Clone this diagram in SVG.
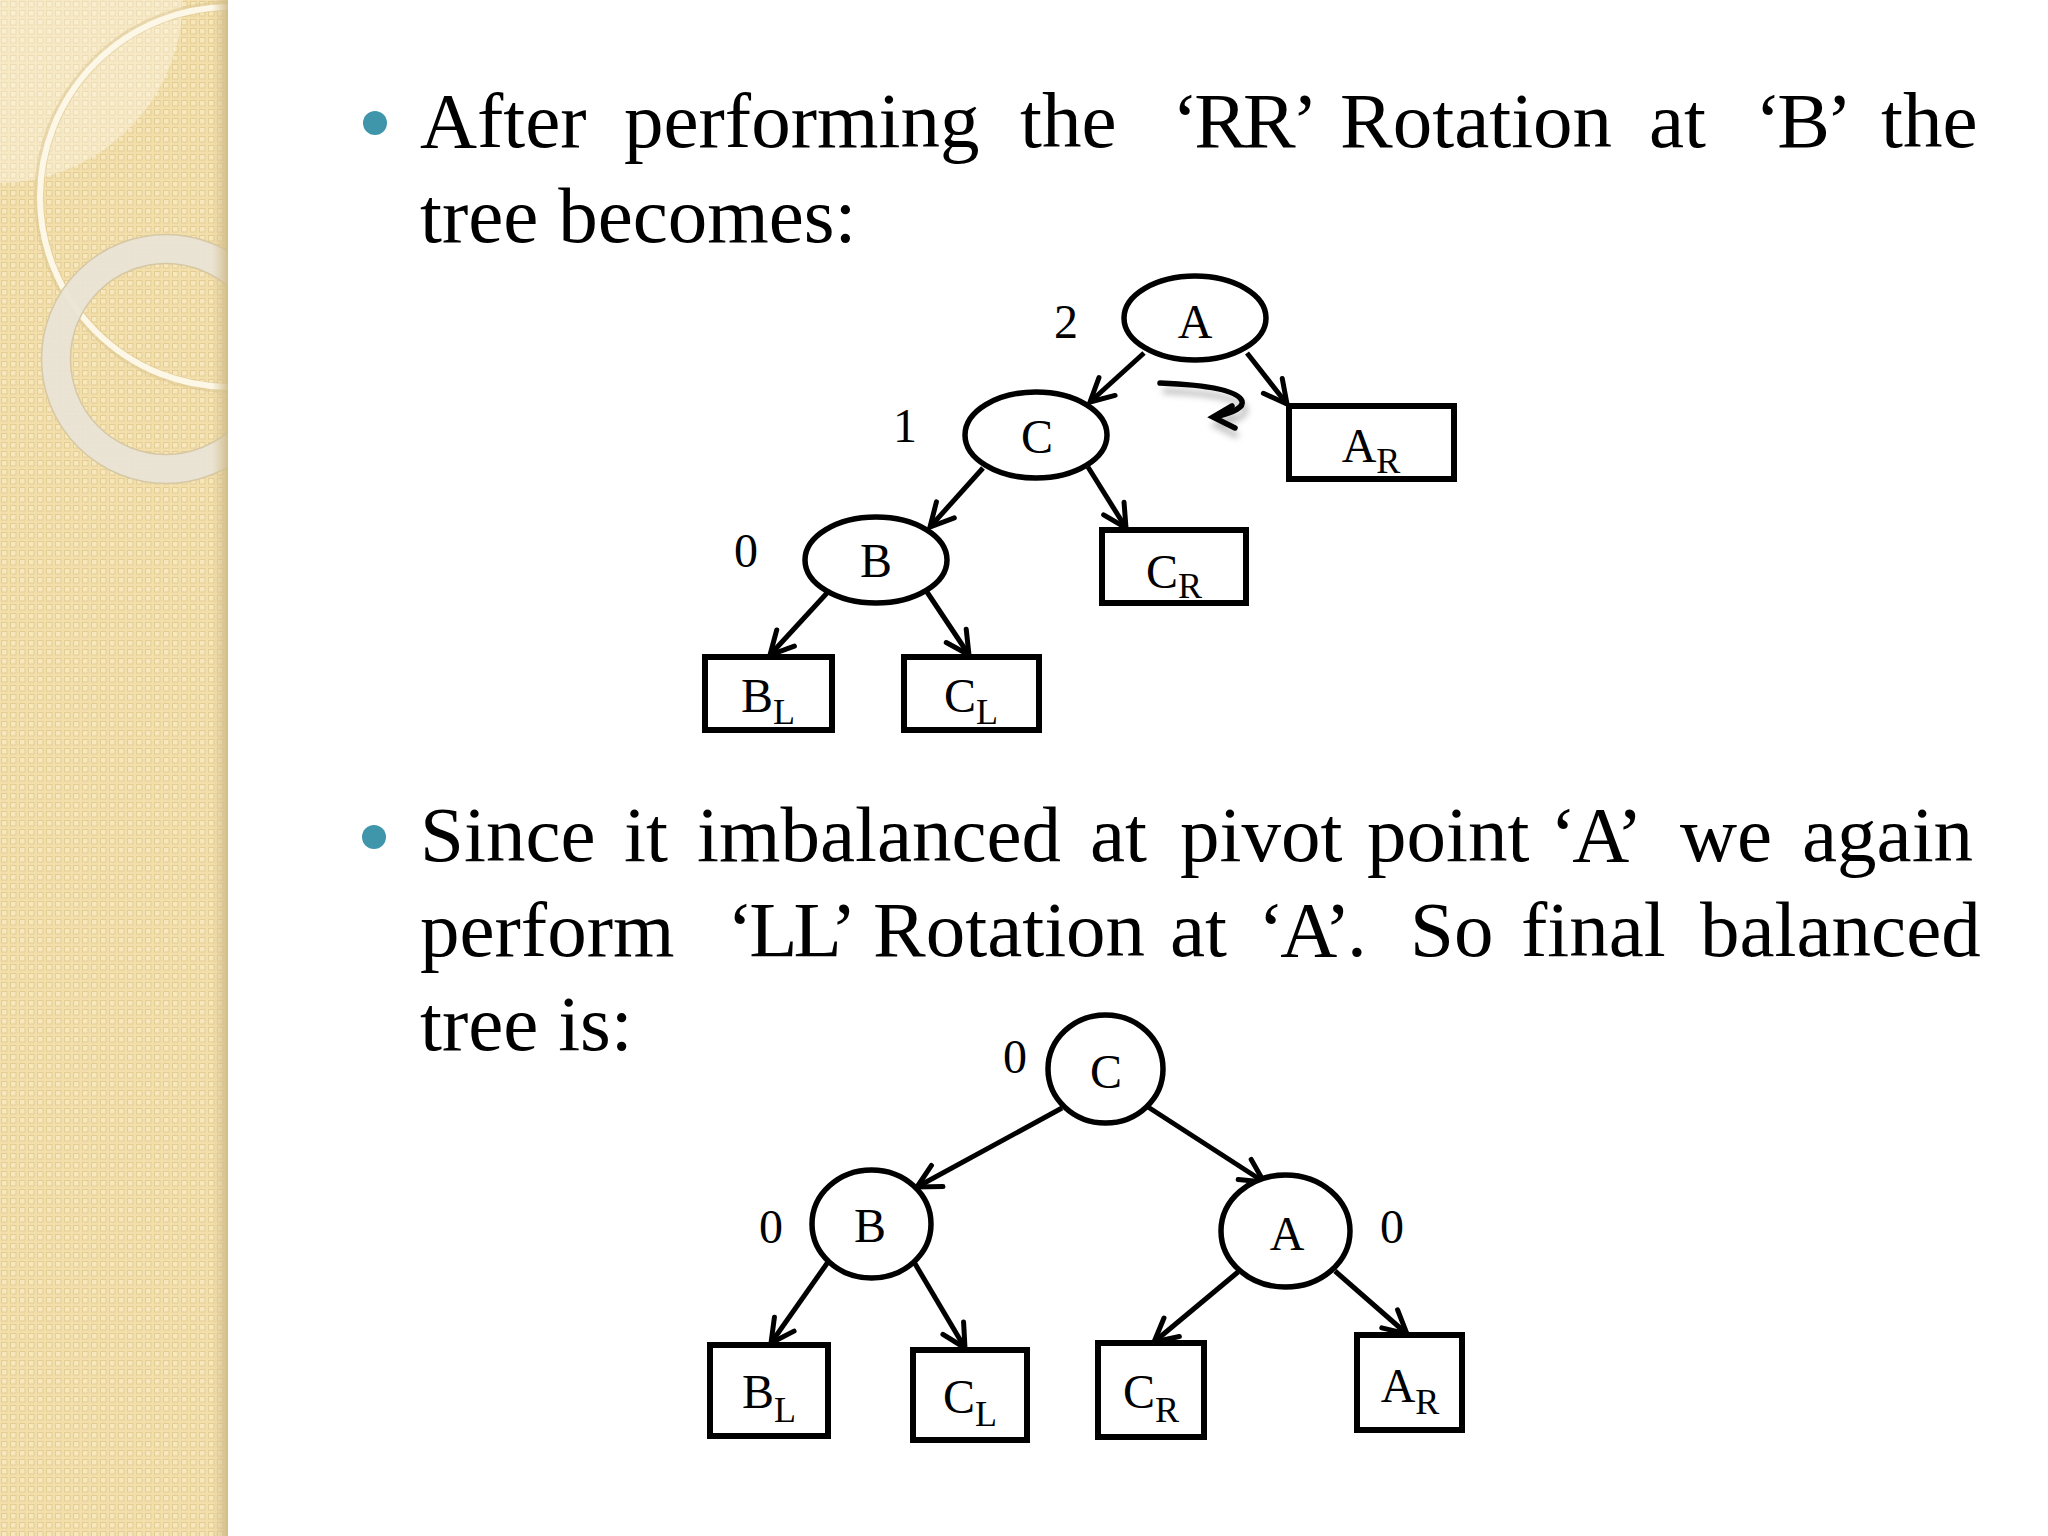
<svg xmlns="http://www.w3.org/2000/svg" width="2048" height="1536" viewBox="0 0 2048 1536">
<defs>
<style>
.body{font-family:"Liberation Serif","Times New Roman",serif;font-size:79px;fill:#000}
.q{letter-spacing:-4px}
.lbl{font-family:"Liberation Serif","Times New Roman",serif;font-size:48px;fill:#000;text-anchor:middle}
.sub{font-size:36px}
.node{fill:#fff;stroke:#000;stroke-width:5.5}
.box{fill:#fff;stroke:#000;stroke-width:6}
.edge{stroke:#000;stroke-width:5;fill:none;marker-end:url(#arr)}
</style>
<marker id="arr" markerUnits="userSpaceOnUse" viewBox="-30 -20 40 40" markerWidth="40" markerHeight="40" refX="0" refY="0" orient="auto">
<path d="M-23,-12 L0,0 L-23,12" fill="none" stroke="#000" stroke-width="5" stroke-linejoin="miter" stroke-linecap="round"/>
</marker>
<pattern id="weave" width="9" height="9" patternUnits="userSpaceOnUse">
<rect width="9" height="9" fill="#f3dfac"/>
<rect x="1.5" y="1.5" width="5.5" height="5.5" fill="#f7e7bd" stroke="#e4cd93" stroke-width="1"/>
</pattern>
<linearGradient id="edgeShade" x1="0" y1="0" x2="1" y2="0">
<stop offset="0" stop-color="#d8c597" stop-opacity="0"/>
<stop offset="1" stop-color="#cdb985" stop-opacity="0.9"/>
</linearGradient>
<clipPath id="stripClip"><rect x="0" y="0" width="228" height="1536"/></clipPath>
<filter id="blur" x="-20%" y="-50%" width="140%" height="200%"><feGaussianBlur stdDeviation="3"/></filter>
</defs>
<rect width="2048" height="1536" fill="#fff"/>
<g id="strip">
<rect x="0" y="0" width="228" height="1536" fill="url(#weave)"/>
<g clip-path="url(#stripClip)">
<path d="M0,0 H183 A185,185 0 0 1 0,183 Z" fill="#fffdf5" opacity="0.35"/>
<circle cx="230" cy="197" r="191" fill="none" stroke="#dcc690" stroke-width="10" opacity="0.5"/>
<circle cx="230" cy="197" r="190" fill="none" stroke="#fcf7e6" stroke-width="6"/>
<circle cx="166" cy="359" r="110" fill="none" stroke="#e9e4d7" stroke-width="29" opacity="0.92"/>
<circle cx="166" cy="359" r="124.5" fill="none" stroke="#d6c8a4" stroke-width="1.5"/>
<circle cx="166" cy="359" r="95.5" fill="none" stroke="#d6c8a4" stroke-width="1.5"/>
</g>
<rect x="212" y="0" width="16" height="1536" fill="url(#edgeShade)"/>
</g>
<g id="text">
<circle cx="375" cy="123" r="12" fill="#3f95aa"/>
<text class="body" y="147"><tspan x="420">After</tspan><tspan x="624">performing</tspan><tspan x="1020">the</tspan><tspan x="1172" class="q">‘RR’</tspan><tspan x="1340">Rotation</tspan><tspan x="1649">at</tspan><tspan x="1755" class="q">‘B’</tspan><tspan x="1881">the</tspan></text>
<text class="body" x="420" y="242">tree becomes:</text>
<circle cx="374" cy="837" r="12" fill="#3f95aa"/>
<text class="body" y="861"><tspan x="420">Since</tspan><tspan x="624">it</tspan><tspan x="697">imbalanced</tspan><tspan x="1090">at</tspan><tspan x="1180">pivot</tspan><tspan x="1367">point</tspan><tspan x="1550" class="q">‘A’</tspan><tspan x="1680">we</tspan><tspan x="1802">again</tspan></text>
<text class="body" y="956"><tspan x="420">perform</tspan><tspan x="727" class="q">‘LL’</tspan><tspan x="873">Rotation</tspan><tspan x="1170">at</tspan><tspan x="1258" class="q">‘A’.</tspan><tspan x="1410">So</tspan><tspan x="1521">final</tspan><tspan x="1700">balanced</tspan></text>
<text class="body" x="420" y="1050">tree is:</text>
</g>
<g id="connectors1">
<line class="edge" x1="1144" y1="353" x2="1090" y2="402"/>
<line class="edge" x1="1247" y1="353" x2="1287" y2="404"/>
<line class="edge" x1="983" y1="468" x2="930" y2="527"/>
<line class="edge" x1="1088" y1="467" x2="1126" y2="528"/>
<line class="edge" x1="827" y1="593" x2="770" y2="655"/>
<line class="edge" x1="927" y1="592" x2="969" y2="655"/>
</g>
<g id="rotation-hint">
<g transform="translate(3,8)" opacity="0.45" filter="url(#blur)">
<path d="M1160,383 Q1236,386 1242,401 Q1245,410 1214,417" fill="none" stroke="#777" stroke-width="6"/>
<path d="M1232,406 L1213,417 L1235,428" fill="none" stroke="#777" stroke-width="6"/>
</g>
<path d="M1160,383 Q1236,386 1242,401 Q1245,410 1214,417" fill="none" stroke="#000" stroke-width="5.5" stroke-linecap="round"/>
<path d="M1232,406 L1213,417 L1235,428" fill="none" stroke="#000" stroke-width="5.5" stroke-linecap="round" stroke-linejoin="miter"/>
</g>
<g id="t1-A"><ellipse class="node" cx="1195" cy="318" rx="71" ry="42"/><text class="lbl" x="1195" y="338">A</text></g>
<text class="lbl" x="1066" y="338">2</text>
<g id="t1-C"><ellipse class="node" cx="1036" cy="435" rx="71" ry="43"/><text class="lbl" x="1037" y="453">C</text></g>
<text class="lbl" x="905" y="442">1</text>
<g id="t1-B"><ellipse class="node" cx="876" cy="560" rx="71" ry="43"/><text class="lbl" x="876" y="577">B</text></g>
<text class="lbl" x="746" y="567">0</text>
<g id="t1-AR"><rect class="box" x="1289" y="406" width="165" height="73"/><text class="lbl" x="1371" y="462">A<tspan class="sub" dy="11">R</tspan></text></g>
<g id="t1-CR"><rect class="box" x="1102" y="530" width="144" height="73"/><text class="lbl" x="1174" y="588">C<tspan class="sub" dy="10">R</tspan></text></g>
<g id="t1-BL"><rect class="box" x="705" y="657" width="127" height="73"/><text class="lbl" x="768" y="712">B<tspan class="sub" dy="12">L</tspan></text></g>
<g id="t1-CL"><rect class="box" x="904" y="657" width="135" height="73"/><text class="lbl" x="971" y="712">C<tspan class="sub" dy="12">L</tspan></text></g>
<g id="connectors2">
<line class="edge" x1="1062" y1="1108" x2="917" y2="1187"/>
<line class="edge" x1="1148" y1="1107" x2="1264" y2="1182"/>
<line class="edge" x1="828" y1="1262" x2="771" y2="1343"/>
<line class="edge" x1="914" y1="1262" x2="965" y2="1348"/>
<line class="edge" x1="1238" y1="1272" x2="1154" y2="1342"/>
<line class="edge" x1="1335" y1="1271" x2="1407" y2="1334"/>
</g>
<g id="t2-C"><ellipse class="node" cx="1105.5" cy="1069" rx="57.5" ry="54"/><text class="lbl" x="1106" y="1088">C</text></g>
<text class="lbl" x="1015" y="1073">0</text>
<g id="t2-B"><ellipse class="node" cx="871.5" cy="1224" rx="59.5" ry="54"/><text class="lbl" x="870" y="1242">B</text></g>
<text class="lbl" x="771" y="1243">0</text>
<g id="t2-A"><ellipse class="node" cx="1285.5" cy="1231" rx="64.5" ry="56"/><text class="lbl" x="1287" y="1250">A</text></g>
<text class="lbl" x="1392" y="1243">0</text>
<g id="t2-BL"><rect class="box" x="710" y="1345" width="118" height="91"/><text class="lbl" x="769" y="1408">B<tspan class="sub" dy="14">L</tspan></text></g>
<g id="t2-CL"><rect class="box" x="913" y="1350" width="114" height="90"/><text class="lbl" x="970" y="1413">C<tspan class="sub" dy="13">L</tspan></text></g>
<g id="t2-CR"><rect class="box" x="1098" y="1343" width="106" height="94"/><text class="lbl" x="1151" y="1408">C<tspan class="sub" dy="14">R</tspan></text></g>
<g id="t2-AR"><rect class="box" x="1357" y="1335" width="105" height="95"/><text class="lbl" x="1410" y="1402">A<tspan class="sub" dy="12">R</tspan></text></g>
</svg>
